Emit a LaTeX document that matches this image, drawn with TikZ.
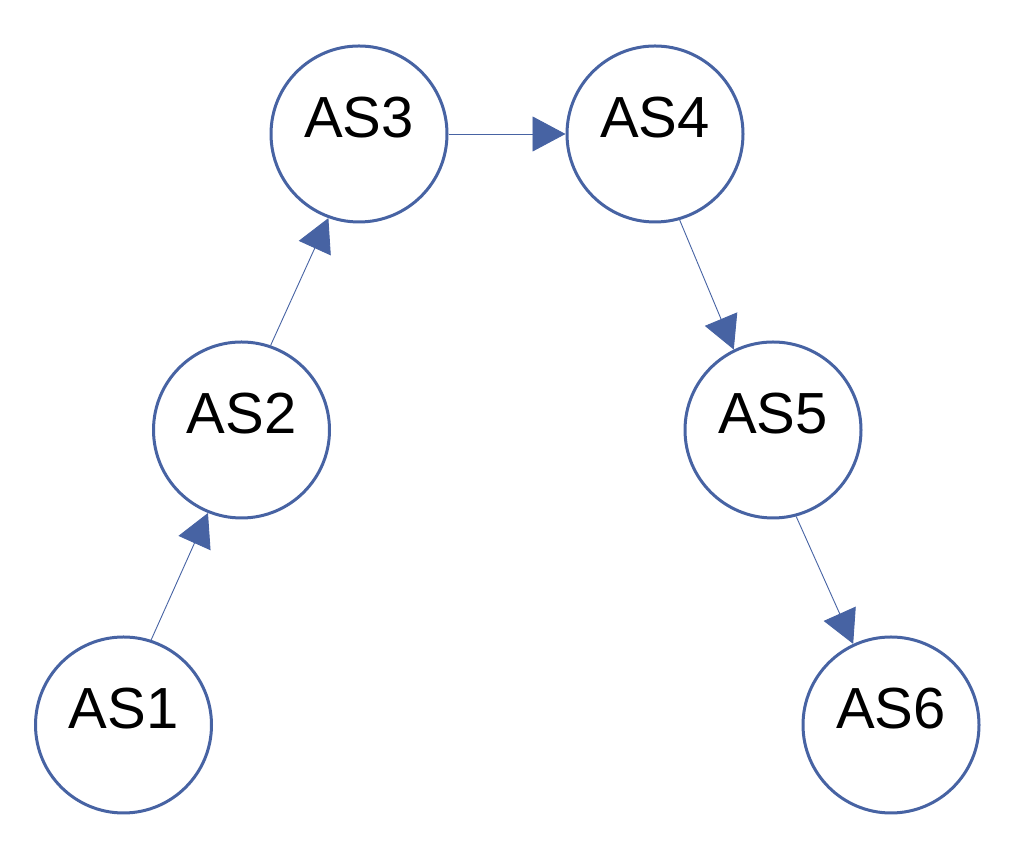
\documentclass[tikz,border=0pt]{standalone}
\usepackage{fontspec}
\setmainfont{Liberation Sans}
\usetikzlibrary{arrows.meta}
\definecolor{asblue}{RGB}{71,99,163}
\begin{document}
\begin{tikzpicture}[x=1pt,y=1pt,
  asnode/.style={circle,draw=asblue,line width=3pt,minimum size=176pt,inner sep=0pt,fill=white},
  astext/.style={anchor=base,font=\fontsize{58}{60}\selectfont,inner sep=0pt},
  link/.style={draw=asblue,line width=0.9pt,-{Triangle[length=33pt,width=35pt]}}]
\useasboundingbox (0,0) rectangle (1017,866);
\node[asnode] (AS1) at (123.5,141) {};
\node[asnode] (AS2) at (241.5,436) {};
\node[asnode] (AS3) at (359,732) {};
\node[asnode] (AS4) at (655,732) {};
\node[asnode] (AS5) at (773,436) {};
\node[asnode] (AS6) at (891,141) {};
\node[astext] (t1) at ([yshift=-4pt]AS1.center) {AS1};
\node[astext] (t2) at ([yshift=-4pt]AS2.center) {AS2};
\node[astext] (t3) at ([yshift=-4pt]AS3.center) {AS3};
\node[astext] (t4) at ([yshift=-4pt]AS4.center) {AS4};
\node[astext] (t5) at ([yshift=-4pt]AS5.center) {AS5};
\node[astext] (t6) at ([yshift=-4pt]AS6.center) {AS6};
\draw[link] (AS1.72) -- (AS2.248);
\draw[link] (AS2.71.5) -- (AS3.250);
\draw[link] (AS3.0) -- (AS4.180);
\draw[link] (AS4.-74) -- (AS5.116);
\draw[link] (AS5.-75) -- (AS6.115);
\end{tikzpicture}
\end{document}
